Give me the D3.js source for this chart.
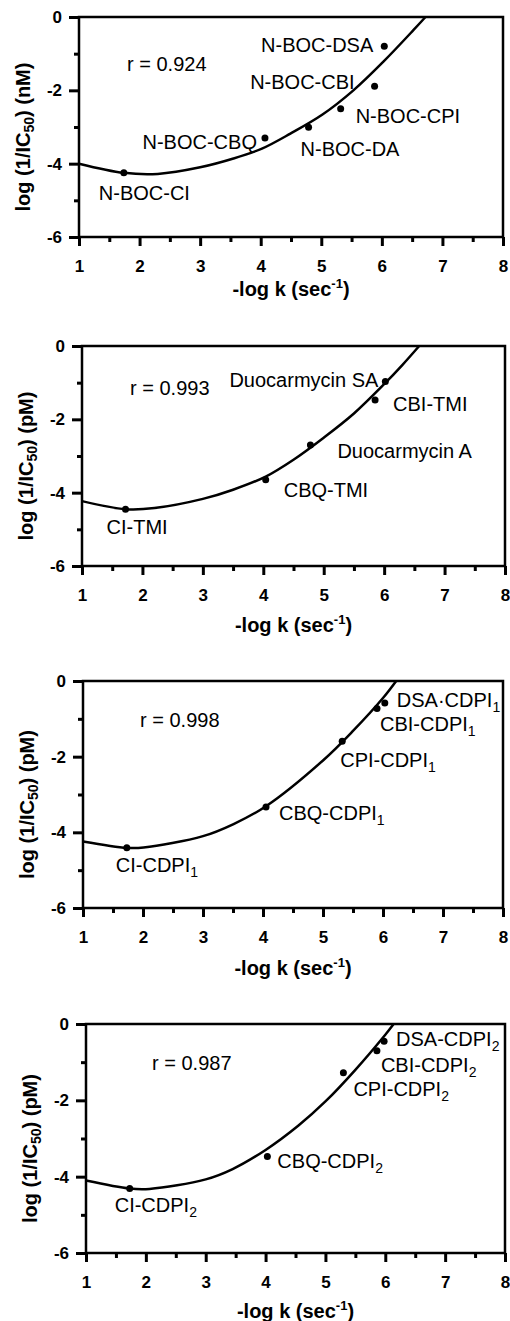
<!DOCTYPE html>
<html>
<head>
<meta charset="utf-8">
<script src="https://cdn.jsdelivr.net/npm/d3@7"></script>
<style>
  body { margin: 0; background: #fff; }
  text { font-family: "Liberation Sans", Arial, sans-serif; fill: #000; }
</style>
</head>
<body>
<div id="chart"></div>
<script>
"use strict";

// SECTION: data
const xTicks = [1, 2, 3, 4, 5, 6, 7, 8];
const xMinor = [1.5, 2.5, 3.5, 4.5, 5.5, 6.5, 7.5];
const yTicks = [0, -2, -4, -6];
const yMinor = [-1, -3, -5];

// panel 1 (nM)
const p1Names = ["N-BOC-CI", "N-BOC-CBQ", "N-BOC-DA", "N-BOC-CPI", "N-BOC-CBI", "N-BOC-DSA"];
const p1X = [1.74, 4.07, 4.79, 5.32, 5.88, 6.04];
const p1Y = [-4.25, -3.30, -3.01, -2.50, -1.89, -0.80];
const p1CurveX = [1, 1.74, 2.3, 3.0, 3.55, 4.02, 4.49, 5.02, 5.53, 6.03, 6.52, 6.72];
const p1CurveY = [-4.0, -4.25, -4.28, -4.1, -3.86, -3.59, -3.18, -2.66, -2.0, -1.21, -0.36, 0];
const p1R = "r = 0.924";

// panel 2 (pM)
const p2Names = ["CI-TMI", "CBQ-TMI", "Duocarmycin A", "CBI-TMI", "Duocarmycin SA"];
const p2X = [1.72, 4.04, 4.78, 5.85, 6.02];
const p2Y = [-4.45, -3.65, -2.70, -1.47, -0.97];
const p2CurveX = [1, 1.72, 2.2, 3.0, 3.5, 4.04, 4.5, 5.0, 5.5, 6.0, 6.3, 6.58];
const p2CurveY = [-4.23, -4.45, -4.42, -4.17, -3.92, -3.56, -3.1, -2.5, -1.84, -1.04, -0.52, 0];
const p2R = "r = 0.993";

// panel 3 (pM)
const p3Names = ["CI-CDPI_1", "CBQ-CDPI_1", "CPI-CDPI_1", "CBI-CDPI_1", "DSA\u00b7CDPI_1"];
const p3X = [1.73, 4.05, 5.32, 5.90, 6.03];
const p3Y = [-4.41, -3.33, -1.59, -0.73, -0.58];
const p3CurveX = [1, 1.73, 2.01, 3.0, 3.51, 4.05, 5.0, 5.5, 6.0, 6.22];
const p3CurveY = [-4.24, -4.41, -4.4, -4.1, -3.78, -3.31, -2.1, -1.32, -0.45, 0];
const p3R = "r = 0.998";

// panel 4 (pM)
const p4Names = ["CI-CDPI_2", "CBQ-CDPI_2", "CPI-CDPI_2", "CBI-CDPI_2", "DSA-CDPI_2"];
const p4X = [1.73, 4.03, 5.30, 5.86, 5.98];
const p4Y = [-4.31, -3.47, -1.28, -0.70, -0.45];
const p4CurveX = [1, 1.73, 2.06, 3.0, 3.45, 4.0, 4.55, 5.0, 5.5, 6.0, 6.14];
const p4CurveY = [-4.1, -4.31, -4.32, -4.07, -3.8, -3.3, -2.66, -2.03, -1.2, -0.28, 0];
const p4R = "r = 0.987";

// SECTION: layout (pixel boxes and label offsets)
const boxes = [
  {left: 79, right: 503, top: 17, bottom: 237, xTitle: 59, rx: 127, ry: 71},
  {left: 82, right: 505, top: 346, bottom: 566, xTitle: 66, rx: 130, ry: 395},
  {left: 83, right: 503, top: 681, bottom: 908, xTitle: 67, rx: 140, ry: 727},
  {left: 86, right: 505, top: 1024, bottom: 1253, xTitle: 65, rx: 152, ry: 1070}
];
// [dx, dy, anchor]
const p1LabelPos = [[-25, 27, "start"], [-8, 11, "end"], [-8, 29, "start"], [15, 14, "start"], [-20, 3, "end"], [-11, 6, "end"]];
const p2LabelPos = [[-19, 25, "start"], [18, 17, "start"], [27, 13, "start"], [18, 11, "start"], [-7, 5, "end"]];
const p3LabelPos = [[-11, 24, "start"], [13, 13, "start"], [-2, 26, "start"], [3, 22, "start"], [12, 4, "start"]];
const p4LabelPos = [[-15, 24, "start"], [10, 12, "start"], [10, 23, "start"], [4, 21, "start"], [12, 5, "start"]];

const panels = [
  {names: p1Names, xs: p1X, ys: p1Y, cx: p1CurveX, cy: p1CurveY, r: p1R, unit: "nM", pos: p1LabelPos},
  {names: p2Names, xs: p2X, ys: p2Y, cx: p2CurveX, cy: p2CurveY, r: p2R, unit: "pM", pos: p2LabelPos},
  {names: p3Names, xs: p3X, ys: p3Y, cx: p3CurveX, cy: p3CurveY, r: p3R, unit: "pM", pos: p3LabelPos},
  {names: p4Names, xs: p4X, ys: p4Y, cx: p4CurveX, cy: p4CurveY, r: p4R, unit: "pM", pos: p4LabelPos}
];

const svg = d3.select("#chart")
    .append("svg")
    .attr("width", 510)
    .attr("height", 1321);

// write "NAME_sub" as text with a subscript
function addName(sel, name) {
  const parts = name.split("_");
  sel.append("tspan").text(parts[0]);
  if (parts[1]) {
    sel.append("tspan").attr("font-size", 14).attr("dy", 5).text(parts[1]);
  }
}

function styleAxis(g) {
  g.select(".domain").remove();
  g.selectAll(".tick line")
    .attr("stroke", "#000")
    .attr("stroke-width", 3);
  g.selectAll("text")
    .style("font-family", "'Liberation Sans', Arial, sans-serif")
    .style("font-size", "17px")
    .style("font-weight", "bold");
}

panels.forEach((p, i) => {
  const box = boxes[i];
  const x = d3.scaleLinear().domain([1, 8]).range([box.left, box.right]);
  const y = d3.scaleLinear().domain([-6, 0]).range([box.bottom, box.top]);
  const g = svg.append("g");

  // frame
  g.append("rect")
    .attr("x", box.left)
    .attr("y", box.top)
    .attr("width", box.right - box.left)
    .attr("height", box.bottom - box.top)
    .attr("fill", "none")
    .attr("stroke", "#000")
    .attr("stroke-width", 2.5);

  // axes: major + minor ticks
  g.append("g")
    .attr("transform", `translate(0,${box.bottom})`)
    .call(d3.axisBottom(x).tickValues(xTicks).tickSize(9).tickPadding(14).tickFormat(d => String(d)))
    .call(styleAxis);
  g.append("g")
    .attr("transform", `translate(0,${box.bottom})`)
    .call(d3.axisBottom(x).tickValues(xMinor).tickSize(5).tickFormat(""))
    .call(styleAxis);
  g.append("g")
    .attr("transform", `translate(${box.left},0)`)
    .call(d3.axisLeft(y).tickValues(yTicks).tickSize(10).tickPadding(7).tickFormat(d => String(d)))
    .call(styleAxis);
  g.append("g")
    .attr("transform", `translate(${box.left},0)`)
    .call(d3.axisLeft(y).tickValues(yMinor).tickSize(5).tickFormat(""))
    .call(styleAxis);

  // fitted curve
  const line = d3.line()
    .x(d => x(d[0]))
    .y(d => y(d[1]))
    .curve(d3.curveCatmullRom.alpha(0.5));
  g.append("path")
    .datum(d3.zip(p.cx, p.cy))
    .attr("d", line)
    .attr("fill", "none")
    .attr("stroke", "#000")
    .attr("stroke-width", 2.5);

  // points
  g.selectAll(".dot")
    .data(d3.range(p.xs.length))
    .enter()
    .append("circle")
      .attr("class", "dot")
      .attr("cx", j => x(p.xs[j]))
      .attr("cy", j => y(p.ys[j]))
      .attr("r", 3.5)
      .attr("fill", "#000");

  // point labels
  p.names.forEach((name, j) => {
    const [dx, dy, anchor] = p.pos[j];
    const t = g.append("text")
      .attr("x", x(p.xs[j]) + dx)
      .attr("y", y(p.ys[j]) + dy)
      .attr("text-anchor", anchor)
      .style("font-size", "20px");
    addName(t, name);
  });

  // correlation
  g.append("text")
    .attr("x", box.rx)
    .attr("y", box.ry)
    .style("font-size", "20px")
    .text(p.r);

  // x title
  const xt = g.append("text")
    .attr("x", (box.left + box.right) / 2)
    .attr("y", box.bottom + box.xTitle)
    .attr("text-anchor", "middle")
    .style("font-size", "20px")
    .style("font-weight", "bold");
  xt.append("tspan").text("-log k (sec");
  xt.append("tspan").attr("font-size", 13).attr("dy", -8).text("-1");
  xt.append("tspan").attr("dy", 8).text(")");

  // y title
  const yt = g.append("text")
    .attr("transform", `translate(${box.left - 49},${(box.top + box.bottom) / 2 + 10}) rotate(-90)`)
    .attr("text-anchor", "middle")
    .style("font-size", "20px")
    .style("font-weight", "bold");
  yt.append("tspan").text("log (1/IC");
  yt.append("tspan").attr("font-size", 14).attr("dy", 4).text("50");
  yt.append("tspan").attr("dy", -4).text(") (" + p.unit + ")");
});
</script>
</body>
</html>
